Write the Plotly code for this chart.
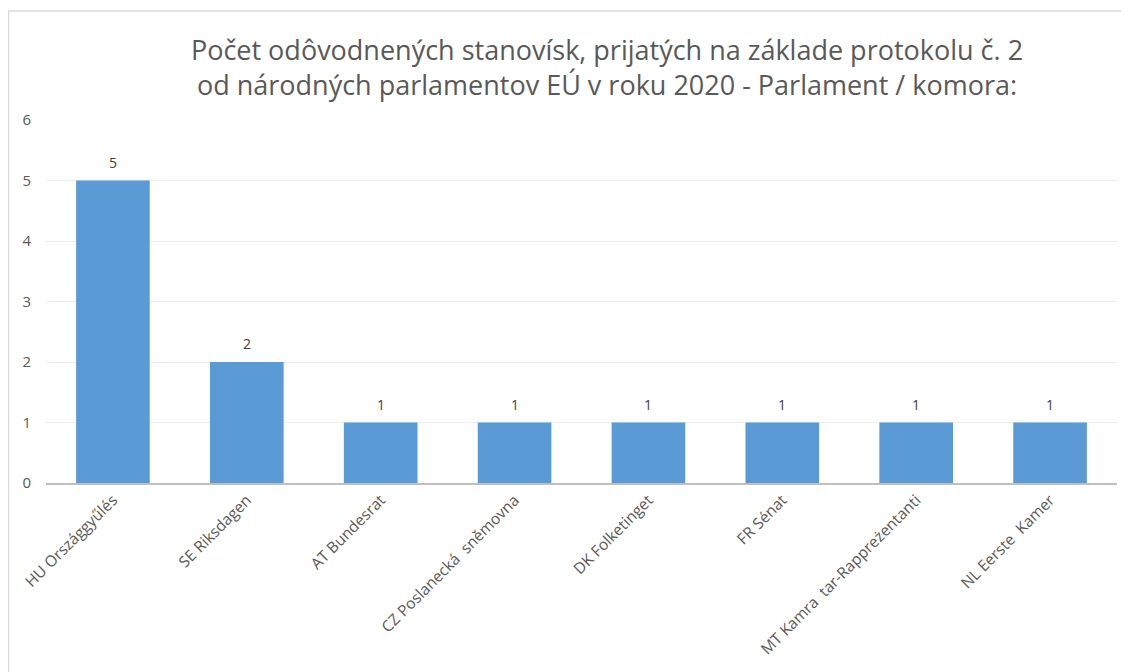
import plotly.graph_objects as go

categories = ["HU Országgyűlés", "SE Riksdagen", "AT Bundesrat", "CZ Poslanecká  sněmovna",
              "DK Folketinget", "FR Sénat", "MT Kamra  tar-Rappreżentanti", "NL Eerste  Kamer"]
values = [5, 2, 1, 1, 1, 1, 1, 1]
title_lines = ["Počet odôvodnených stanovísk, prijatých na základe protokolu č. 2",
               "od národných parlamentov EÚ v roku 2020 - Parlament / komora:"]

W, H = 1129, 672
OFF = 8  # page body margin
L, R, T, B = 46 - OFF, 12 + OFF, 120 - OFF, 189 + OFF
pw, ph = W - L - R, H - T - B

fig = go.Figure(go.Bar(
    x=categories, y=values, marker=dict(color="#5B9BD5", line=dict(width=0)),
    width=0.55, hoverinfo="x+y",
))

for c, v in zip(categories, values):
    fig.add_annotation(x=c, y=v, text=str(v), showarrow=False, yanchor="bottom", yshift=7,
                       font=dict(family="Open Sans", size=14, color="#404040"))

fig.update_layout(
    width=W, height=H, margin=dict(l=L, r=R, t=T, b=B, autoexpand=False),
    paper_bgcolor="white", plot_bgcolor="white", showlegend=False,
    title=dict(text="<br>".join(title_lines), x=(607 - OFF - L) / pw, xref="paper", xanchor="center",
               y=1 - (60 - OFF) / H, yref="container", yanchor="top",
               font=dict(family="Open Sans", size=27, color="#595959")),
    font=dict(family="Open Sans", color="#595959"),
    xaxis=dict(tickangle=-45, tickfont=dict(size=15.5, color="#595959"), showgrid=False,
               showline=True, linecolor="#BFBFBF", linewidth=2, ticks=""),
    yaxis=dict(range=[0, 6], dtick=1, gridcolor="#EDEDED", gridwidth=1, zeroline=False,
               tickfont=dict(size=15, color="#595959"), ticks="", ticklabelstandoff=14),
    shapes=[dict(type="rect", xref="paper", yref="paper",
                 x0=(0.5 - L) / pw, x1=(W + 10 - L) / pw,
                 y0=-(H + 10 - T - ph) / ph, y1=1 + (T - (11 - OFF)) / ph,
                 line=dict(color="#D9D9D9", width=1.5), fillcolor="rgba(0,0,0,0)", layer="below")],
)

fig.write_html("out.html")
